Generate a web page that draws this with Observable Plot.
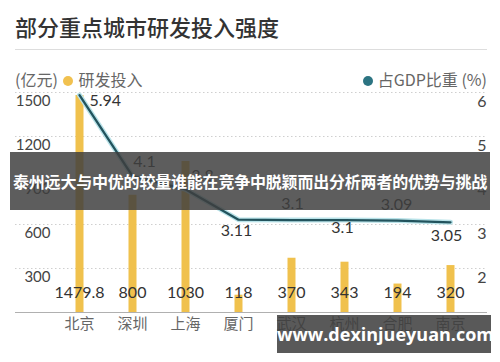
<!DOCTYPE html>
<html>
<head>
<meta charset="utf-8">
<script src="https://cdn.jsdelivr.net/npm/d3@7"></script>
<script src="https://cdn.jsdelivr.net/npm/@observablehq/plot@0.6"></script>
<style>
  html, body { margin:0; padding:0; background:#fff; }
  body { width:500px; height:362px; overflow:hidden; position:relative; font-family:"Noto Sans CJK SC","Noto Sans",sans-serif; }
  #title { height:49px; border-bottom:1px solid #ddd; margin:0 13px 0 15px; position:relative; }
  #title span { position:absolute; left:0; top:10px; font-size:22px; font-weight:500; color:#333; white-space:nowrap; }
  #legend { height:38px; position:relative; font-size:16px; color:#666; }
  #legend .item { position:absolute; top:19px; line-height:20px; white-space:nowrap; }
  #legend .dot { display:inline-block; width:10px; height:10px; border-radius:50%; vertical-align:0px; margin:0 5px 0 2px; }
  #banner { position:absolute; left:10px; top:152px; width:480px; height:58px; background:rgba(62,62,62,0.84);
            color:#fff; font-weight:700; font-size:16px; line-height:58px; text-align:center; white-space:nowrap; letter-spacing:-0.2px; }
  #url { position:absolute; left:277px; top:315px; width:214px; height:38px; background:rgba(62,62,62,0.86);
         color:#fff; font-family:"Open Sans",sans-serif; font-weight:700; font-size:18px; line-height:38px; text-align:center; }
</style>
</head>
<body>
<div id="title"><span>部分重点城市研发投入强度</span></div>
<div id="legend">
  <div class="item" style="left:15px">(亿元) <span class="dot" style="background:#f1c14f"></span>研发投入</div>
  <div class="item" style="right:13px"><span class="dot" style="background:#2c7482"></span>占GDP比重 (%)</div>
</div>
<div id="chart"></div>
<div id="banner">泰州远大与中优的较量谁能在竞争中脱颖而出分析两者的优势与挑战</div>
<div id="url">www.dexinjueyuan.com</div>
<script>
// ---- data ----
const cities = ["北京", "深圳", "上海", "厦门", "武汉", "杭州", "合肥", "南京"];
const rdInvest = [1479.8, 800, 1030, 118, 370, 343, 194, 320];   // 研发投入 (亿元)
const gdpShare = [5.94, 4.1, 3.8, 3.11, 3.1, 3.1, 3.09, 3.05];    // 占GDP比重 (%)
const rdLabels = ["1479.8", "800", "1030", "118", "370", "343", "194", "320"];
const gdpLabels = ["5.94", "4.1", "3.8", "3.11", "3.1", "3.1", "3.09", "3.05"];
const leftTicks = [300, 600, 900, 1200, 1500];
const rightTicks = [2, 3, 4, 5, 6];

// right axis (%) shares the left scale: 1% ↔ 0, 6% ↔ 1500
const toLeft = v => (v - 1) * 300;

const data = cities.map((c, i) => ({
  city: c, rd: rdInvest[i], gdp: gdpShare[i], gdpY: toLeft(gdpShare[i]),
  rdLabel: rdLabels[i], gdpLabel: gdpLabels[i], i
}));

// label placement (layout only)
const offs = [[10, 6, "start"], [12, -14, "middle"], [17, -13, "middle"], [-2, 11, "middle"],
              [1, -16, "middle"], [-2, 8, "middle"], [-1, -16, "middle"], [-4, 14, "middle"]];

const numFont = "Lato, 'Noto Sans', sans-serif";

const gdpTextMarks = offs.map((o, k) =>
  Plot.text(data.filter(d => d.i === k), {
    x: "city", y: "gdpY", text: "gdpLabel", dx: o[0], dy: o[1], textAnchor: o[2],
    fontSize: 16, fill: "#333", fontFamily: numFont
  })
);

const chart = Plot.plot({
  width: 500,
  height: 274,
  marginTop: 4,
  marginBottom: 50,
  marginLeft: 15,
  marginRight: 13,
  style: { background: "transparent", overflow: "visible" },
  x: { type: "point", domain: cities, padding: 0.88, align: 0.63, axis: null },
  y: { domain: [0, 1500], axis: null },
  marks: [
    Plot.ruleY(leftTicks, { stroke: "#cfcfcf", strokeDasharray: "1.5,2.5", strokeWidth: 1 }),
    Plot.ruleX(data, { x: "city", y1: 0, y2: "rd", stroke: "#f0c14d", strokeWidth: 8 }),
    Plot.ruleY([0], { stroke: "#b0b0b0", strokeWidth: 1 }),
    Plot.line(data, { x: "city", y: "gdpY", stroke: "#b8e2e8", strokeWidth: 5, strokeLinejoin: "round" }),
    Plot.line(data, { x: "city", y: "gdpY", stroke: "#22535d", strokeWidth: 2.3, strokeLinejoin: "round" }),
    Plot.text(leftTicks, { y: d => d, text: d => String(d), frameAnchor: "left", textAnchor: "end",
      dx: 35, dy: 9, fontSize: 15, fill: "#444", fontFamily: numFont }),
    Plot.text(rightTicks, { y: d => toLeft(d), text: d => String(d), frameAnchor: "right", textAnchor: "end",
      dx: -1, dy: 9, fontSize: 16, fill: "#444", fontFamily: numFont }),
    Plot.text(data, { x: "city", text: "rdLabel", frameAnchor: "bottom", dy: -15,
      fontSize: 16, fill: "#333", fontFamily: numFont }),
    Plot.text(data, { x: "city", text: "city", frameAnchor: "bottom", dy: 16,
      fontSize: 15, fill: "#666", fontFamily: "'Noto Sans CJK SC', sans-serif" }),
    ...gdpTextMarks
  ]
});
document.getElementById("chart").appendChild(chart);
</script>
</body>
</html>
